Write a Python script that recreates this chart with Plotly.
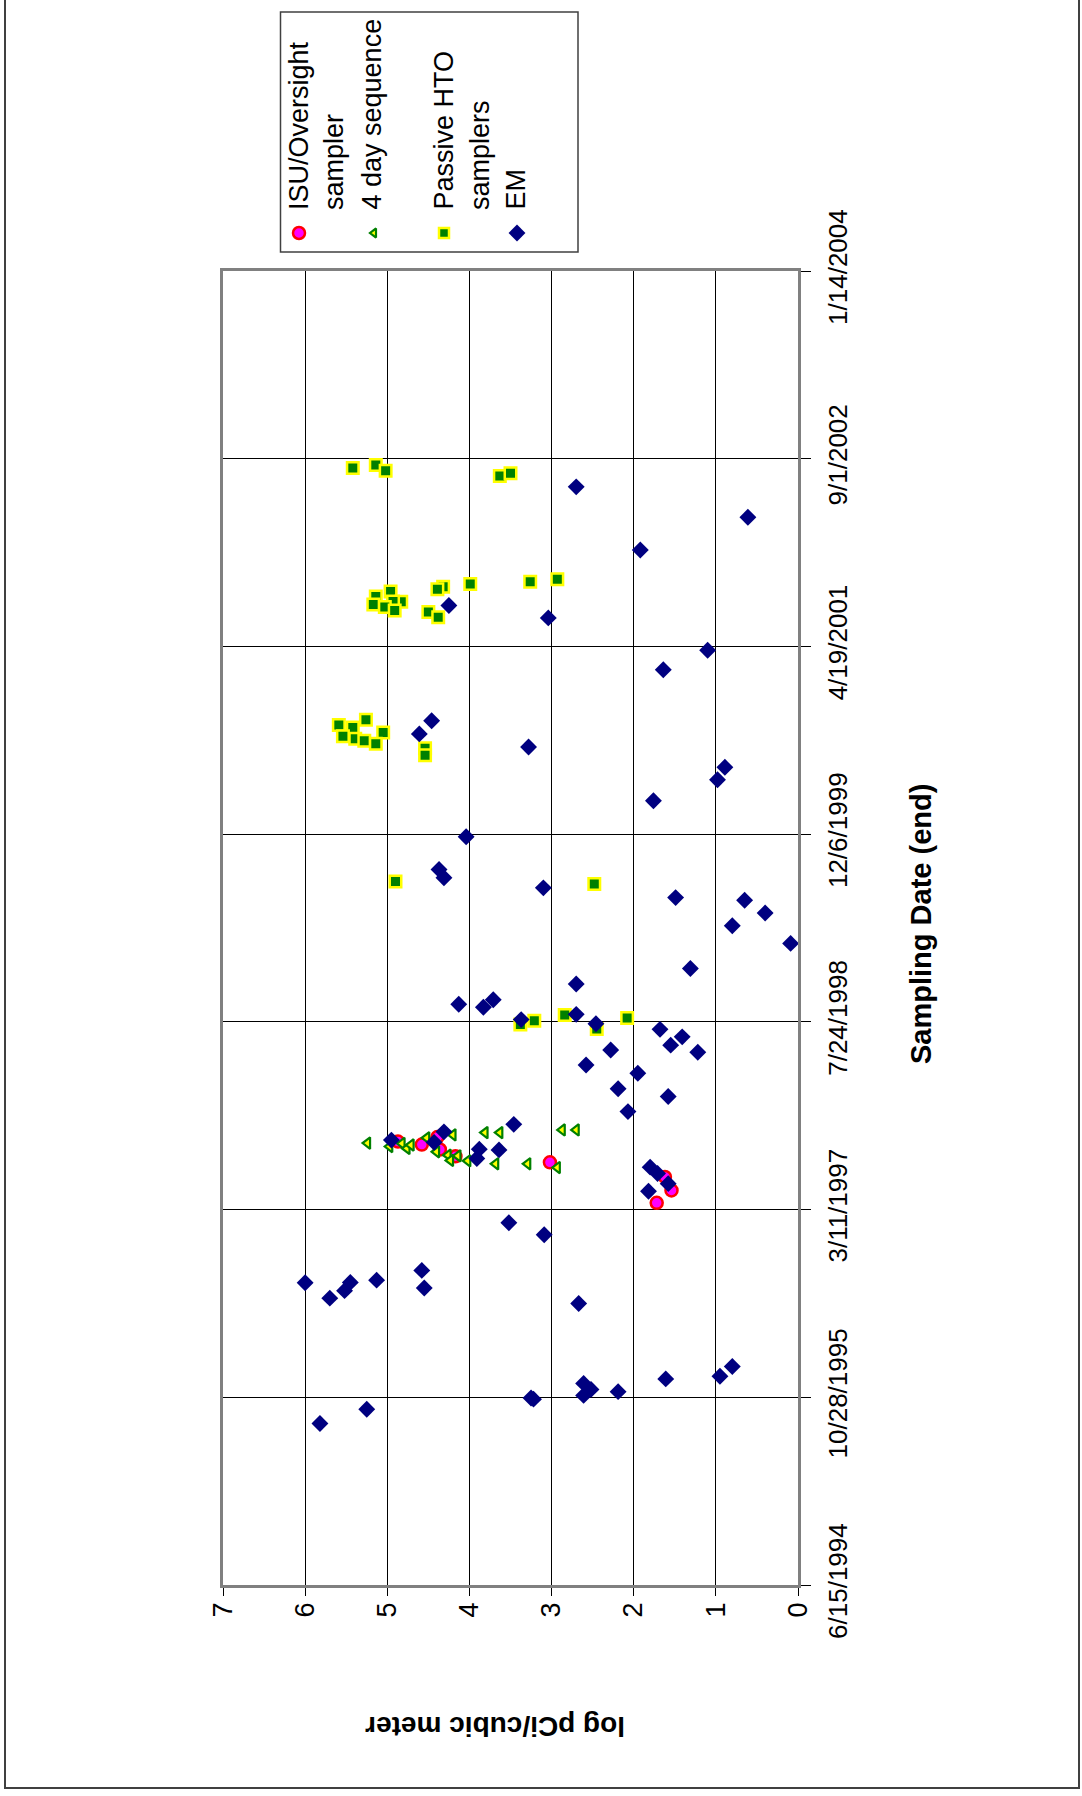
import plotly.graph_objects as go

# ---- data: sampling end date and log pCi/m3 for each sampler type ----
isu_dates = ["1997-09-08", "1997-08-31", "1997-09-20", "1997-08-18", "1997-07-31",
             "1997-07-15", "1997-06-06", "1997-05-01", "1997-03-29"]
isu_vals = [4.87, 4.58, 4.39, 4.36, 4.17, 3.02, 1.62, 1.54, 1.72]

seq4_dates = ["1997-09-04", "1997-08-26", "1997-09-03", "1997-08-21", "1997-08-30",
              "1997-09-18", "1997-08-12", "1997-09-26", "1997-08-03", "1997-07-20",
              "1997-08-01", "1997-07-19", "1997-10-02", "1997-10-02", "1997-07-11",
              "1997-07-11", "1997-10-09", "1997-10-09", "1997-07-01"]
seq4_vals = [5.24, 4.97, 4.82, 4.76, 4.71, 4.52, 4.40, 4.20, 4.26, 4.23,
             4.14, 4.02, 3.81, 3.63, 3.68, 3.29, 2.87, 2.70, 2.93]

hto_dates = ["2002-08-07", "2002-08-15", "2002-07-31", "2002-07-17", "2002-07-24",
             "2001-10-15", "2001-10-08", "2001-10-02", "2001-09-25", "2001-09-18",
             "2001-09-12", "2001-08-30", "2001-08-16", "2001-08-17", "2001-08-09",
             "2001-08-02", "2001-07-24", "2001-07-20", "2001-07-06",
             "2000-09-22", "2000-09-15", "2000-10-06", "2000-09-02", "2000-08-23",
             "2000-08-16", "2000-08-11", "2000-08-03", "2000-07-22", "2000-07-03",
             "1999-08-02", "1999-07-26",
             "1998-08-11", "1998-07-27", "1998-07-17", "1998-08-03", "1998-07-05"]
hto_vals = [5.42, 5.14, 5.02, 3.63, 3.50,
            2.93, 3.26, 3.99, 4.32, 4.39,
            4.96, 5.14, 4.83, 4.93, 5.17,
            5.03, 4.91, 4.50, 4.38,
            5.59, 5.42, 5.26, 5.05, 5.54,
            5.39, 5.28, 5.14, 4.54, 4.54,
            4.90, 2.48,
            2.84, 3.21, 3.38, 2.08, 2.45]

em_dates = ["2002-06-18", "2002-03-29", "2002-01-01", "2001-08-06", "2001-07-04",
            "2001-04-09", "2001-02-16", "2000-10-03", "2000-08-29", "2000-07-25",
            "2000-06-01", "2000-04-29", "2000-03-04", "1999-11-29",
            "1999-09-03", "1999-08-12", "1999-07-16", "1999-06-20", "1999-06-13",
            "1999-05-10", "1999-04-06", "1999-02-18", "1998-12-13", "1998-11-02",
            "1998-09-09", "1998-09-01", "1998-09-21", "1998-07-30", "1998-08-13",
            "1998-07-19",
            "1998-07-04", "1998-06-14", "1998-05-23", "1998-05-04", "1998-05-10",
            "1998-03-31", "1998-03-09", "1998-01-27", "1998-01-06", "1997-11-27",
            "1997-10-24", "1997-10-04", "1997-09-06", "1997-09-12", "1997-08-19",
            "1997-08-17", "1997-07-25", "1997-07-02", "1997-06-15", "1997-05-19",
            "1997-04-29",
            "1997-02-04", "1997-01-03", "1996-08-28", "1996-07-18", "1996-08-07",
            "1996-08-29", "1996-09-04", "1996-09-30", "1996-08-14", "1996-07-04",
            "1996-01-18", "1995-12-23", "1995-12-16", "1995-11-12", "1995-11-18",
            "1995-12-04", "1995-11-02", "1995-10-26", "1995-10-23", "1995-09-26",
            "1995-08-19"]
em_vals = [2.70, 0.61, 1.92, 4.25, 3.04,
           1.10, 1.64, 4.46, 4.61, 3.28,
           0.89, 0.98, 1.76, 4.04,
           4.37, 4.31, 3.10, 1.49, 0.65,
           0.40, 0.80, 0.09, 1.31, 2.70,
           4.13, 3.83, 3.71, 3.37, 2.70,
           2.46,
           1.68, 1.41, 1.55, 1.22, 2.28,
           2.58, 1.95, 2.19, 1.58, 2.07,
           3.46, 4.31, 4.43, 4.95, 3.88,
           3.64, 3.91, 1.80, 1.71, 1.58,
           1.82,
           3.52, 3.09, 6.00, 5.70, 5.52,
           5.45, 5.13, 4.58, 4.55, 2.67,
           0.80, 0.95, 1.61, 2.19, 2.52,
           2.61, 2.61, 3.25, 3.22, 5.25,
           5.82]

date_ticks = ["1994-06-15", "1995-10-28", "1997-03-11", "1998-07-24",
              "1999-12-06", "2001-04-19", "2002-09-01", "2004-01-14"]
date_tick_text = ["6/15/1994", "10/28/1995", "3/11/1997", "7/24/1998",
                  "12/6/1999", "4/19/2001", "9/1/2002", "1/14/2004"]
value_ticks = [0, 1, 2, 3, 4, 5, 6, 7]

series_names = ["ISU/Oversight sampler", "4 day sequence", "Passive HTO samplers", "EM"]

# ---- page geometry (pixels) ----
W, H = 1082, 1796
PL, PR, PT, PB = 223, 798, 271, 1585
FONT = "Liberation Sans, Arial, sans-serif"

isu_marker = dict(symbol="circle", size=12, color="#FF00FF", line=dict(color="#FF0000", width=2.5))
seq4_marker = dict(symbol="triangle-left", size=10, color="#FFFF00", line=dict(color="#008000", width=2.2))
hto_marker = dict(symbol="square", size=11.5, color="#008000", line=dict(color="#FFFF00", width=2.5))
em_marker = dict(symbol="diamond", size=13, color="#000080", line=dict(width=0))

fig = go.Figure()

# Chart is laid out turned on its side: value axis runs horizontally (7 at left, 0 at right),
# sampling date runs upward along the right-hand side.
for name, xs, ys, mk in [
    (series_names[0], isu_vals, isu_dates, isu_marker),
    (series_names[1], seq4_vals, seq4_dates, seq4_marker),
    (series_names[2], hto_vals, hto_dates, hto_marker),
    (series_names[3], em_vals, em_dates, em_marker),
]:
    fig.add_trace(go.Scatter(x=xs, y=ys, mode="markers", name=name, marker=mk,
                             showlegend=False, cliponaxis=False))

# Overlay pixel-space axes used for the hand-built sideways legend and titles
legend_markers = [
    (299, 233, isu_marker),
    (374, 233, dict(seq4_marker, size=8)),
    (444, 233, dict(hto_marker, size=10)),
    (517, 233, em_marker),
]
for x, y, mk in legend_markers:
    fig.add_trace(go.Scatter(x=[x], y=[y], mode="markers", marker=mk, xaxis="x2", yaxis="y2",
                             showlegend=False, hoverinfo="skip", cliponaxis=False))

legend_lines = [
    ("ISU/Oversight", 298.5),
    ("sampler", 334),
    ("4 day sequence", 371),
    ("Passive HTO", 443),
    ("samplers", 480),
    ("EM", 515),
]
annotations = []
for txt, x in legend_lines:
    annotations.append(dict(x=x, y=212, xref="x2", yref="y2", text=txt, textangle=-90,
                            showarrow=False, xanchor="center", yanchor="bottom",
                            font=dict(family=FONT, size=27, color="black")))

annotations.append(dict(x=921, y=924, xref="x2", yref="y2", text="Sampling Date (end)",
                        textangle=-90, showarrow=False, xanchor="center", yanchor="middle",
                        font=dict(family=FONT, size=29, color="black", weight="bold")))
annotations.append(dict(x=495, y=1727, xref="x2", yref="y2", text="log pCi/cubic meter",
                        textangle=180, showarrow=False, xanchor="center", yanchor="middle",
                        font=dict(family=FONT, size=28, color="black", weight="bold")))

shapes = [
    # legend frame
    dict(type="rect", xref="x2", yref="y2", x0=280.5, x1=578, y0=12, y1=252,
         line=dict(color="#404040", width=1.5), fillcolor="rgba(0,0,0,0)", layer="below"),
    # page frame
    dict(type="rect", xref="x2", yref="y2", x0=5, x1=1079, y0=-20, y1=1788,
         line=dict(color="#404040", width=2), fillcolor="rgba(0,0,0,0)", layer="below"),
]

fig.update_layout(
    template="none",
    width=W, height=H,
    margin=dict(l=0, r=0, t=0, b=0, pad=0, autoexpand=False),
    paper_bgcolor="white",
    plot_bgcolor="rgba(0,0,0,0)",
    showlegend=False,
    font=dict(family=FONT, size=27, color="black"),
    xaxis=dict(
        domain=[PL / W, PR / W], anchor="y", automargin=False,
        range=[7, 0], tickvals=value_ticks, ticktext=[str(v) for v in value_ticks],
        tickangle=-90, ticks="outside", ticklen=8, tickcolor="black", tickwidth=1,
        showgrid=True, gridcolor="black", gridwidth=1, zeroline=False,
        showline=True, linecolor="#808080", linewidth=2.5, mirror=True,
        tickfont=dict(family=FONT, size=27, color="black"),
        ticklabelstandoff=-4,
    ),
    yaxis=dict(
        domain=[(H - PB) / H, (H - PT) / H], anchor="x", side="right", type="date",
        automargin=False,
        range=[date_ticks[0], date_ticks[-1]], tickvals=date_ticks, ticktext=date_tick_text,
        tickangle=-90, ticks="outside", ticklen=10, tickcolor="black", tickwidth=1,
        showgrid=True, gridcolor="black", gridwidth=1, zeroline=False,
        showline=True, linecolor="#808080", linewidth=2.5, mirror=True,
        tickfont=dict(family=FONT, size=26, color="black"),
        ticklabelstandoff=5,
    ),
    xaxis2=dict(domain=[0, 1], anchor="y2", range=[0, W], visible=False, fixedrange=True,
                automargin=False),
    yaxis2=dict(domain=[0, 1], anchor="x2", range=[H, 0], visible=False, fixedrange=True,
                automargin=False),
    annotations=annotations,
    shapes=shapes,
)

fig.write_html("out.html")
